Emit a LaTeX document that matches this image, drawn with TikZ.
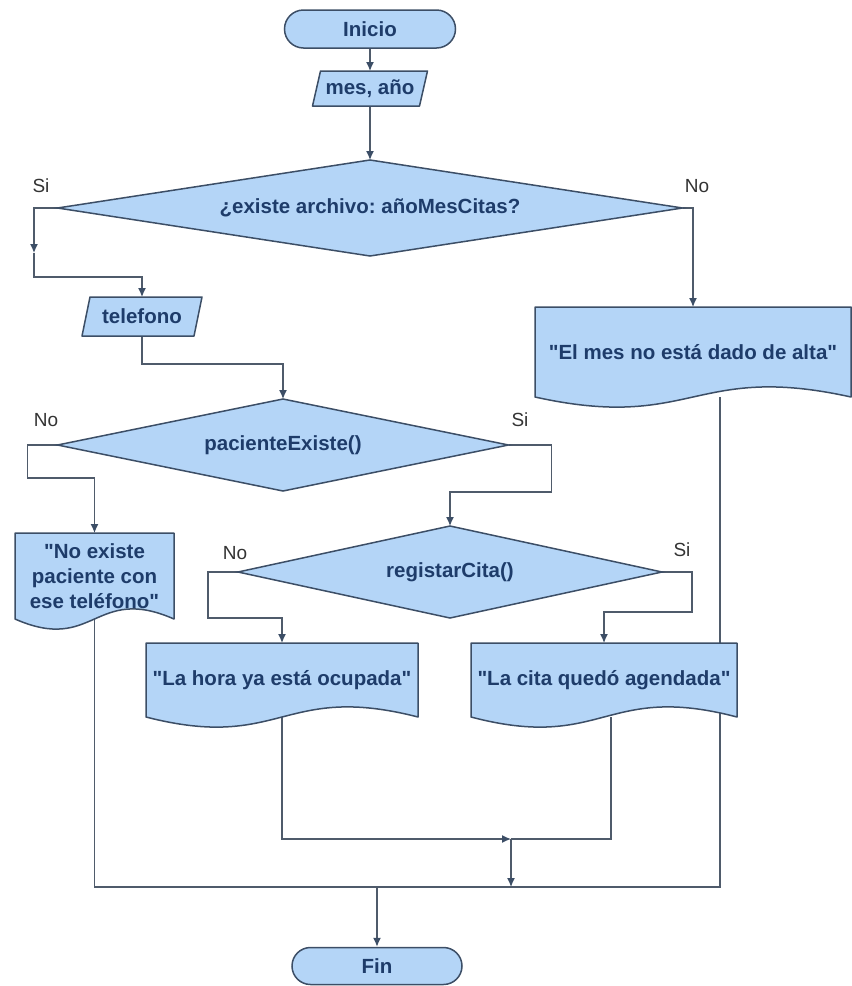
\documentclass[tikz,border=0pt]{standalone}
\usepackage{fontspec}
\setmainfont{Liberation Sans}[Ligatures=TeXOff]
\usetikzlibrary{shapes.geometric,shapes.misc,arrows.meta,calc}
\definecolor{fillb}{HTML}{B4D5F7}
\definecolor{bord}{HTML}{3C4E66}
\definecolor{txt}{HTML}{1E3C6A}
\definecolor{connc}{HTML}{4F5B6B}
\definecolor{lblc}{HTML}{333333}
\pgfdeclarelayer{connlayer}
\pgfdeclarelayer{shplayer}
\pgfsetlayers{connlayer,shplayer,main}
\frenchspacing
\tikzset{
  basefont/.style={font=\fontsize{20.5}{25}\selectfont\bfseries, text=txt},
  term/.style={basefont, rounded rectangle, draw=bord, fill=fillb, line width=1.5pt, inner sep=0pt},
  decis/.style={basefont, diamond, aspect=5, draw=bord, fill=fillb, line width=1.5pt, inner sep=0pt, outer sep=0pt},
  boxonly/.style={basefont, rectangle, inner sep=0pt, outer sep=0pt, align=center},
  shapefill/.style={draw=bord, fill=fillb, line width=1.5pt, line join=round},
  lbl/.style={font=\fontsize{19}{22}\selectfont, text=lblc},
  conn/.style={draw=connc, line width=1.3pt},
  arr/.style={conn, -{Latex[length=9pt,width=8pt]}, arrows={[color=bord]}},
}
\newcommand{\docshape}[1]{%
  \path[shapefill] (#1.north west) -- (#1.north east) -- (#1.south east)
    .. controls ([yshift=35pt]#1.south) and ([yshift=-35pt]#1.south) .. (#1.south west) -- cycle;}
\newcommand{\parashape}[1]{%
  \path[shapefill] ([xshift=8pt]#1.north west) -- (#1.north east) -- ([xshift=-8pt]#1.south east) -- (#1.south west) -- cycle;}
\begin{document}
\begin{tikzpicture}[x=1pt,y=-1pt]
\useasboundingbox (0,0) rectangle (852,986);

% terminals
\node[term, minimum width=171pt, minimum height=38pt] (inicio) at (370,29) {Inicio};
\node[term, minimum width=170pt, minimum height=37pt] (fin) at (377,966) {Fin};

% inputs (parallelograms)
\node[boxonly, minimum width=115pt, minimum height=35pt] (mes) at (370,88.5) {mes, año};
\node[boxonly, minimum width=120pt, minimum height=39pt] (tel) at (142,316.5) {telefono};

% decisions
\node[decis, minimum width=625pt, minimum height=96pt] (d1) at (370,208) {¿existe archivo: añoMesCitas?};
\node[decis, minimum width=451pt, minimum height=92pt] (d2) at (283,445) {pacienteExiste()};
\node[decis, minimum width=424pt, minimum height=92pt] (d3) at (450,572) {registarCita()};

% documents
\node[boxonly, minimum width=316pt, minimum height=90pt] (elmes) at (693,352) {"El mes no está dado de alta"};
\node[boxonly, minimum width=159pt, minimum height=86pt] (noex) at (94.5,576) {"No existe\\paciente con\\ese teléfono"};
\node[boxonly, minimum width=272pt, minimum height=74pt] (hora) at (282,680) {"La hora ya está ocupada"};
\node[boxonly, minimum width=266pt, minimum height=74pt] (cita) at (604,680) {"La cita quedó agendada"};

% labels
\node[lbl] (l1) at (41,186) {Si};
\node[lbl] (l2) at (697,186) {No};
\node[lbl] (l3) at (46,420) {No};
\node[lbl] (l4) at (520,420) {Si};
\node[lbl] (l5) at (235,553) {No};
\node[lbl] (l6) at (682,550) {Si};

\begin{pgfonlayer}{shplayer}
  \parashape{mes}
  \parashape{tel}
  \docshape{elmes}
  \docshape{noex}
  \docshape{hora}
  \docshape{cita}
\end{pgfonlayer}

\coordinate (a1) at (34,253);
\coordinate (a2) at (34,277);
\coordinate (m1) at (511,839);
\coordinate (m2) at (511,887);
\coordinate (e1) at (720,887);

\begin{pgfonlayer}{connlayer}
  \draw[arr] (inicio.south) -- (mes.north);
  \draw[arr] (mes.south) -- (d1.north);
  \draw[arr] (d1.west) -| (a1);
  \draw[arr] (a1) -- (a2) -| (tel.north);
  \draw[arr] (d1.east) -| (elmes.north);
  \draw[arr] (tel.south) -- ++(0,28) -| (d2.north);
  \draw[arr] (d2.west) -- ++(-30,0) -- ++(0,33) -| (noex.north);
  \draw[arr] (d2.east) -- ++(43,0) -- ++(0,47) -| (d3.north);
  \draw[arr] (d3.west) -- ++(-30,0) -- ++(0,46) -| (hora.north);
  \draw[arr] (d3.east) -- ++(30,0) -- ++(0,40) -| (cita.north);
  \draw[arr] (hora.south) |- (m1);
  \draw[conn] ([xshift=7pt]cita.south) |- (m1);
  \draw[arr] (m1) -- (m2);
  \draw[conn] (noex.south) |- (e1) -- (e1 |- elmes.south);
  \draw[arr] (fin.north |- m2) -- (fin.north);
\end{pgfonlayer}
\end{tikzpicture}
\end{document}
